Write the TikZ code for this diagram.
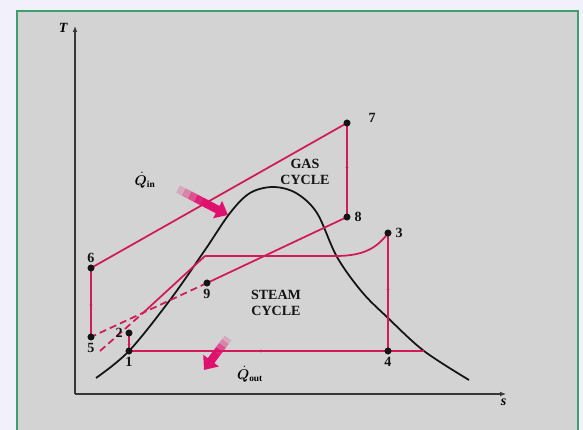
\documentclass[tikz,border=0pt]{standalone}
\usepackage{amsmath,bm}
\usepackage{fontspec}
\setmainfont{Liberation Serif}
\usepackage{tikz}
\usepackage{xcolor}
\usetikzlibrary{arrows.meta,positioning,calc,decorations.markings}
\definecolor{outer}{HTML}{F2F0FA}
\definecolor{panel}{HTML}{D3D3D3}
\definecolor{frame}{HTML}{3E9E6E}
\definecolor{ink}{HTML}{141414}
\definecolor{cyc}{HTML}{D11A5A}
\definecolor{heat}{HTML}{E0106E}
\tikzset{
  axis/.style={draw=ink!85,line width=1.2pt,-{Latex[length=5pt,width=4pt]}},
  cycline/.style={draw=cyc,line width=1.5pt},
  dashline/.style={draw=cyc,line width=1.5pt,dash pattern=on 6pt off 3.5pt},
  dome/.style={draw=ink,line width=1.5pt},
  midarr/.style={postaction={decorate},
                 decoration={markings,mark=at position 0.5 with {\arrow{Stealth[length=2.5pt,width=2.5pt]}}}},
  statept/.style={circle,fill=ink,inner sep=0pt,minimum size=6pt},
  statelab/.style={font=\large\bfseries,text=ink,inner sep=1pt},
  cyclab/.style={font=\large\bfseries,text=ink,align=center,inner sep=1pt}
}
\begin{document}
\begin{tikzpicture}[x=0.03cm,y=-0.03cm]
  \useasboundingbox (0,0) rectangle (583,430);
  % panel
  \fill[outer] (0,0) rectangle (583,430);
  \begin{scope}
    \clip (0,0) rectangle (583,430);
    \draw[frame,fill=panel,line width=2pt] (17,11) rectangle (578,445);
  \end{scope}
  % axes
  \coordinate (org) at (75,394);
  \draw[axis] (org) -- (75,26) coordinate (ttop);
  \draw[axis] (org) -- (506,394) coordinate (sright);
  \node[font=\large\bfseries\itshape,left=3pt of ttop,yshift=-2pt] (tlab) {T};
  \node[font=\large\bfseries\itshape,below=1pt of sright,xshift=-2pt] (slab) {s};
  % state points
  \coordinate (p1) at (129,351);
  \coordinate (p2) at (129,333);
  \coordinate (p3) at (388,233);
  \coordinate (p4) at (388,351);
  \coordinate (p5) at (91,337);
  \coordinate (p6) at (91,268);
  \coordinate (p7) at (347,123);
  \coordinate (p8) at (347,217);
  \coordinate (p9) at (207,283);
  \coordinate (sa) at (100,351);
  \coordinate (sb) at (143,313);
  \coordinate (sc) at (205,256);
  \coordinate (sd) at (335,256);
  \coordinate (se) at (424,351);
  % saturation dome
  \draw[dome] plot[smooth,tension=0.55] coordinates {
    (96,378) (129,351) (170,300) (205,250) (230,213) (250,193) (273,187)
    (296,193) (317,213) (337,257) (362,292) (388,318) (424,351) (469,380)};
  % gas cycle
  \draw[cycline,midarr] (p5) -- (p6);
  \draw[cycline] (p6) -- (p7);
  \draw[cycline,midarr] (p7) -- (p8);
  \draw[cycline] (p8) -- (p9);
  \draw[dashline] (p9) -- (p5);
  % steam cycle
  \draw[cycline,midarr] (p1) -- (p2);
  \draw[dashline] (sa) -- (sb);
  \draw[cycline] (sb) -- (sc);
  \draw[cycline,midarr] (sc) -- (sd);
  \draw[cycline] (sd) to[out=0,in=235] (p3);
  \draw[cycline,midarr] (p3) -- (p4);
  \draw[cycline,midarr] (p4) -- (p1);
  \draw[cycline] (p4) -- (se);
  % points and labels
  \foreach \p in {1,...,9}{
    \node[statept] (n\p) at (p\p) {};
  }
  \node[statelab,below=1pt of n1] (l1) {1};
  \node[statelab,left=1pt of n2] (l2) {2};
  \node[statelab,right=2pt of n3] (l3) {3};
  \node[statelab,below=1pt of n4] (l4) {4};
  \node[statelab,below=1pt of n5] (l5) {5};
  \node[statelab,above=0pt of n6] (l6) {6};
  \node[statelab,right=14pt of n7,yshift=4pt] (l7) {7};
  \node[statelab,right=2pt of n8] (l8) {8};
  \node[statelab,below=1pt of n9] (l9) {9};
  \node[cyclab] (gas) at (305,172) {GAS\\[-1pt]CYCLE};
  \node[cyclab] (steam) at (276,303) {STEAM\\[-1pt]CYCLE};
  % heat arrows
  \coordinate (qia) at (178,189);
  \coordinate (qib) at (228,215);
  \coordinate (qoa) at (228,338);
  \coordinate (qob) at (204,370);
  \foreach \f/\o in {0.00/0.2,0.12/0.4,0.24/0.65,0.36/0.9}{
    \draw[heat,line width=7pt,opacity=\o] ($(qia)!\f!(qib)$) -- ($(qia)!\f+0.13!(qib)$);
    \draw[heat,line width=7pt,opacity=\o] ($(qoa)!\f!(qob)$) -- ($(qoa)!\f+0.13!(qob)$);
  }
  \draw[heat,line width=7pt,-{Triangle[length=10pt,width=16pt]}] ($(qia)!0.48!(qib)$) -- (qib);
  \draw[heat,line width=7pt,-{Triangle[length=10pt,width=16pt]}] ($(qoa)!0.48!(qob)$) -- (qob);
  \node[font=\large\bfseries] (qin) at (145,180) {$\bm{\dot{Q}}_{\mathbf{in}}$};
  \node[font=\large\bfseries] (qout) at (250,374) {$\bm{\dot{Q}}_{\mathbf{out}}$};
\end{tikzpicture}
\end{document}
